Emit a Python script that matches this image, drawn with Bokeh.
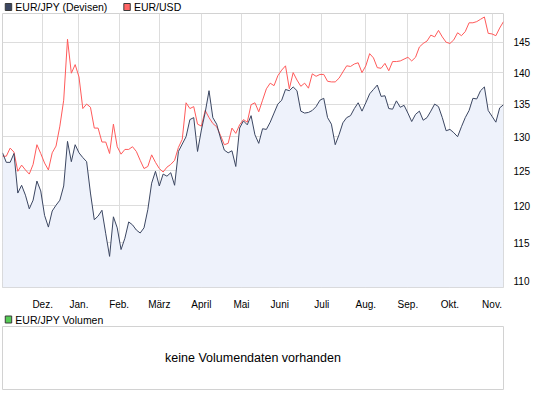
from bokeh.plotting import figure
from bokeh.layouts import column
from bokeh.models import Range1d, FixedTicker, NumeralTickFormatter
from bokeh.core.properties import value
from bokeh.embed import file_html
from bokeh.resources import INLINE

# ---------------- data ----------------
# trading-day index (every second trading day, mid-Nov .. late Nov next year)
day = list(range(0, 264, 2))

eur_jpy = [127.6, 126.2, 126.2, 127.5, 121.8, 122.9, 121.5, 119.6, 120.8, 123.5,
           122.1, 118.7, 117.1, 119.3, 120.1, 120.8, 122.8, 129.3, 126.3, 128.8,
           127.6, 126.9, 126.3, 121.8, 118.1, 118.6, 119.4, 116.2, 113.2, 118.5,
           117.0, 114.1, 115.6, 117.8, 117.4, 116.7, 116.3, 117.0, 119.5, 123.2,
           124.9, 122.8, 124.5, 124.2, 124.7, 122.9, 127.8, 128.9, 130.0, 132.6,
           132.9, 127.8, 131.0, 133.7, 137.1, 132.9, 131.9, 129.8, 128.0, 127.6,
           127.9, 125.6, 131.3, 132.4, 131.8, 133.2, 130.3, 129.0, 131.2, 131.1,
           132.2, 133.6, 135.0, 135.6, 137.3, 137.1, 137.7, 137.1, 133.9, 133.6,
           133.7, 134.0, 134.6, 135.6, 135.9, 132.9, 131.9, 128.8, 130.3, 132.1,
           132.9, 133.2, 134.3, 135.2, 133.9, 135.2, 136.6, 137.3, 138.0, 136.2,
           136.3, 134.3, 134.2, 135.5, 134.5, 134.8, 133.6, 132.3, 133.4, 133.9,
           132.5, 132.9, 133.9, 135.0, 134.6, 132.9, 130.9, 131.1, 130.6, 130.0,
           131.5, 132.9, 134.0, 135.9, 135.8, 137.1, 137.7, 134.0, 133.1, 132.2,
           134.4, 134.9]

eur_usd = [127.1, 127.1, 128.3, 127.7, 124.9, 125.8, 125.1, 124.5, 125.9, 128.8,
           127.5, 126.1, 125.1, 127.6, 128.6, 131.6, 135.6, 145.5, 139.9, 141.3,
           139.3, 134.3, 135.0, 134.5, 131.3, 131.3, 129.2, 129.2, 127.5, 131.9,
           128.5, 127.4, 128.1, 128.1, 128.5, 127.8, 126.5, 125.3, 125.6, 127.3,
           126.2, 125.3, 124.8, 125.5, 125.9, 126.5, 128.4, 129.6, 135.2, 134.3,
           134.6, 131.9, 131.6, 134.0, 132.9, 132.0, 131.5, 130.2, 128.8, 129.0,
           131.3, 130.5, 131.8, 132.6, 132.2, 134.9, 135.2, 133.8, 135.6, 137.4,
           138.3, 137.9, 139.5, 140.4, 141.1, 137.4, 140.0, 138.8, 137.8, 138.3,
           137.5, 139.8, 139.4, 139.7, 139.7, 138.6, 138.5, 138.5, 139.1, 140.1,
           141.1, 141.0, 141.4, 141.6, 140.0, 141.1, 143.1, 142.4, 140.8, 140.7,
           141.5, 140.3, 141.8, 141.8, 141.9, 142.2, 142.5, 141.9, 142.5, 144.2,
           144.8, 145.2, 146.2, 145.9, 147.0, 145.9, 145.0, 144.8, 145.4, 146.6,
           146.1, 146.8, 148.3, 148.3, 148.5, 148.9, 149.3, 146.5, 146.4, 146.1,
           147.4, 148.5]

month_days = [21, 40, 61, 82, 104, 125, 145, 167, 190, 212, 234, 256]
month_labels = ["Dez.", "Jan.", "Feb.", "März", "April", "Mai", "Juni", "Juli",
                "Aug.", "Sep.", "Okt.", "Nov."]
y_ticks = [110, 115, 120, 125, 130, 135, 140, 145]

series_names = ["EUR/JPY (Devisen)", "EUR/USD"]
volume_name = "EUR/JPY Volumen"
volume_msg = "keine Volumendaten vorhanden"

# ---------------- styles ----------------
FONT = value("Liberation Sans")
JPY_COLOR = "#3b4661"
USD_COLOR = "#ff5a5a"
FILL_COLOR = "#eef2fb"
GRID_COLOR = "#dddddd"
FRAME_COLOR = "#d2d2d2"
W = 545


def legend_fig(h, items):
    f = figure(width=W, height=h, x_range=Range1d(0, W), y_range=Range1d(h, 0),
               x_axis_location=None, y_axis_location=None, min_border=0,
               output_backend="svg", toolbar_location=None, title=None)
    f.outline_line_color = None
    f.xgrid.visible = False
    f.ygrid.visible = False
    for (x0, label, color) in items:
        f.quad(left=x0, right=x0 + 7, top=h / 2 - 3.5, bottom=h / 2 + 3.5,
               fill_color=color, line_color="#3a3a3a", line_width=1)
        f.text(x=[x0 + 11], y=[h / 2], text=[label], text_font=FONT,
               text_font_size="10.5px", text_color="#000000",
               text_baseline="middle", text_align="left")
    return f


leg1 = legend_fig(13, [(3, series_names[0], JPY_COLOR), (132, series_names[1], "#ff6464")])

# ---------------- main chart ----------------
y0, y1 = 109.2, 149.9
p = figure(width=W, height=299, x_range=Range1d(0, 262), y_range=Range1d(y0, y1),
           y_axis_type="log", y_axis_location="right",
           output_backend="svg", toolbar_location=None, title=None,
           min_border_left=2, min_border_right=42, min_border_top=0,
           min_border_bottom=18)
p.outline_line_color = FRAME_COLOR
p.background_fill_color = "white"

p.varea(x=day, y1=y0, y2=eur_jpy, fill_color=FILL_COLOR)
p.line(day, eur_usd, line_color=USD_COLOR, line_width=1)
p.line(day, eur_jpy, line_color=JPY_COLOR, line_width=1)

p.xaxis.ticker = FixedTicker(ticks=month_days)
p.xaxis.major_label_overrides = {d: m for d, m in zip(month_days, month_labels)}
p.yaxis.ticker = FixedTicker(ticks=y_ticks)
p.yaxis.formatter = NumeralTickFormatter(format="0")
p.xgrid.ticker = FixedTicker(ticks=month_days)
p.ygrid.ticker = FixedTicker(ticks=y_ticks)
p.grid.grid_line_color = GRID_COLOR
p.grid.grid_line_width = 1

for ax in (p.xaxis, p.yaxis):
    ax.axis_line_color = None
    ax.major_tick_line_color = None
    ax.minor_tick_line_color = None
    ax.major_label_text_font = "Liberation Sans"
    ax.major_label_text_font_size = "10px"
    ax.major_label_text_color = "#000000"
p.xaxis.major_label_standoff = 5
p.yaxis.major_label_standoff = 4

# ---------------- volume panel ----------------
leg2 = legend_fig(14, [(3, volume_name, "#55cc55")])

vp = figure(width=W, height=69, x_range=Range1d(0, 1), y_range=Range1d(0, 1),
            x_axis_location=None, y_axis_location=None,
            output_backend="svg", toolbar_location=None, title=None,
            min_border_left=2, min_border_right=42, min_border_top=0,
            min_border_bottom=6)
vp.outline_line_color = FRAME_COLOR
vp.xgrid.visible = False
vp.ygrid.visible = False
vp.text(x=[0.5], y=[0.5], text=[volume_msg], text_font=FONT,
        text_font_size="12.5px", text_color="#000000",
        text_align="center", text_baseline="middle")

layout = column(leg1, p, leg2, vp, spacing=0)

open("out.html", "w").write(file_html(layout, INLINE))
